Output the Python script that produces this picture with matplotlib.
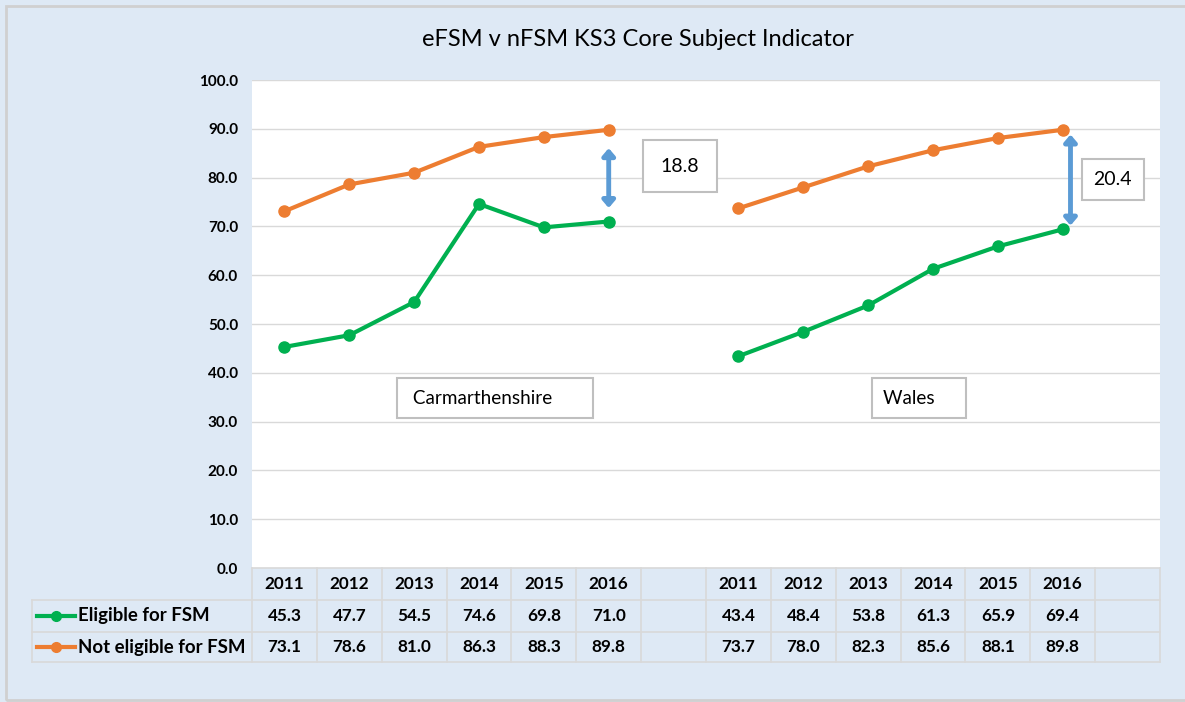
import numpy as np
import matplotlib.pyplot as plt
import matplotlib.transforms as mtransforms
from matplotlib.patches import FancyArrowPatch
from matplotlib.lines import Line2D

plt.rcParams['font.family'] = ['Lato', 'DejaVu Sans']

title = "eFSM v nFSM KS3 Core Subject Indicator"
years = ["2011", "2012", "2013", "2014", "2015", "2016"]
regions = ["Carmarthenshire", "Wales"]
efsm_carm = [45.3, 47.7, 54.5, 74.6, 69.8, 71.0]
nfsm_carm = [73.1, 78.6, 81.0, 86.3, 88.3, 89.8]
efsm_wales = [43.4, 48.4, 53.8, 61.3, 65.9, 69.4]
nfsm_wales = [73.7, 78.0, 82.3, 85.6, 88.1, 89.8]
series_names = ["Eligible for FSM", "Not eligible for FSM"]
gaps = ["18.8", "20.4"]

GREEN = "#00B050"
ORANGE = "#ED7D31"
BG = "#DEE9F5"
GRID = "#D9D9D9"

W, H = 1185, 702
fig = plt.figure(figsize=(W / 100, H / 100), dpi=100)
fig.patch.set_facecolor(BG)

def fx(px):
    return px / W

def fy(py):
    return 1 - py / H

# outer border (right edge falls outside the picture)
fig.add_artist(plt.Rectangle((fx(6), fy(700)), fx(1200), 694 / H, transform=fig.transFigure,
                             fill=False, ec="#D0D0D0", lw=2))

ax = fig.add_axes([fx(252), fy(568), fx(1160 - 252), (568 - 80) / H])
ax.set_facecolor("white")
ax.set_xlim(-0.5, 13.5)
ax.set_ylim(0, 100)
ax.set_yticks(np.arange(0, 101, 10))
ax.set_yticklabels([f"{v:.1f}" for v in np.arange(0, 101, 10)], fontsize=11, fontweight="bold")
ax.tick_params(axis="y", length=0, pad=10)
ax.set_xticks([])
for s in ax.spines.values():
    s.set_visible(False)
ax.grid(axis="y", color=GRID, lw=1)
ax.set_axisbelow(True)

xc = np.arange(6)
xw = np.arange(7, 13)
for xs, e, n in [(xc, efsm_carm, nfsm_carm), (xw, efsm_wales, nfsm_wales)]:
    ax.plot(xs, e, color=GREEN, lw=3, marker="o", ms=8, zorder=3)
    ax.plot(xs, n, color=ORANGE, lw=3, marker="o", ms=8, zorder=3)

fig.text(0.538, fy(40), title, ha="center", va="center", fontsize=17)

# gap arrows with value boxes
for xa, y0, y1, label, tx, ty, pad in [(5, 86.6, 73.2, gaps[0], 6.1, 82.3, 0.9),
                                       (12.12, 89.4, 69.6, gaps[1], 12.77, 79.6, 0.6)]:
    arr = FancyArrowPatch((xa, y0), (xa, y1), arrowstyle="<|-|>,head_length=0.35,head_width=0.3",
                          lw=3.5, color="#5B9BD5", mutation_scale=12, zorder=4)
    ax.add_patch(arr)
    ax.text(tx, ty, label, fontsize=14, ha="center", va="center", zorder=5,
            bbox=dict(boxstyle=f"square,pad={pad}", fc="white", ec="#BFBFBF", lw=1.5))

ax.text(3.25, 34.8, " " + regions[0] + "      ", fontsize=13.6, ha="center", va="center",
        bbox=dict(boxstyle="square,pad=0.6", fc="white", ec="#BFBFBF", lw=1.5))
ax.text(9.78, 34.8, regions[1] + "    ", fontsize=13.6, ha="center", va="center",
        bbox=dict(boxstyle="square,pad=0.6", fc="white", ec="#BFBFBF", lw=1.5))

# data table below the axis
trans = mtransforms.blended_transform_factory(ax.transData, fig.transFigure)
col_labels = years + [""] + years + [""]
row1 = [f"{v:.1f}" for v in efsm_carm] + [""] + [f"{v:.1f}" for v in efsm_wales] + [""]
row2 = [f"{v:.1f}" for v in nfsm_carm] + [""] + [f"{v:.1f}" for v in nfsm_wales] + [""]
row_y = [584, 616, 647]
for i in range(14):
    for txt, yy in zip([col_labels[i], row1[i], row2[i]], row_y):
        ax.text(i, fy(yy), txt, transform=trans, ha="center", va="center",
                fontsize=12.3, fontweight="bold")

tl = dict(color=GRID, lw=1.2, transform=fig.transFigure)
for i in range(15):
    xb = ax.transData.transform((i - 0.5, 0))[0] / W
    fig.add_artist(Line2D([xb, xb], [fy(568), fy(662)], **tl))
fig.add_artist(Line2D([fx(32), fx(32)], [fy(600), fy(662)], **tl))
fig.add_artist(Line2D([fx(252), fx(1160)], [fy(568), fy(568)], **tl))
for yy in [600, 632, 662]:
    fig.add_artist(Line2D([fx(32), fx(1160)], [fy(yy), fy(yy)], **tl))

# legend keys inside the row headers
for name, col, yy in [(series_names[0], GREEN, 616), (series_names[1], ORANGE, 647)]:
    fig.add_artist(Line2D([fx(37), fx(75)], [fy(yy), fy(yy)], color=col, lw=3,
                          transform=fig.transFigure))
    fig.add_artist(Line2D([fx(56)], [fy(yy)], color=col, marker="o", ms=7,
                          transform=fig.transFigure))
    fig.text(fx(78), fy(yy), name, ha="left", va="center", fontsize=13.4, fontweight="bold")

fig.savefig("out.png", dpi=100, facecolor=BG)
